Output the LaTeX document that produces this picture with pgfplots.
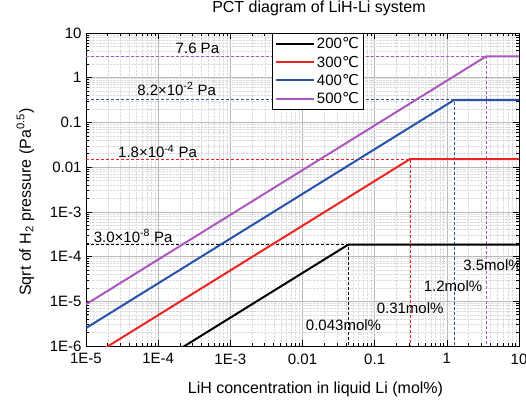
\documentclass[border=0pt]{standalone}
\usepackage{pgfplots}
\pgfplotsset{compat=1.18}
\usepackage{fontspec}
\setmainfont{Liberation Sans}
\newfontfamily\dejavu{DejaVu Sans}
\definecolor{cred}{RGB}{238,36,36}
\definecolor{cblue}{RGB}{38,82,170}
\definecolor{cpurp}{RGB}{170,88,190}
\newcommand{\degC}{{\dejavu ℃}}
\newcommand{\supx}[1]{\textsuperscript{#1}}
\begin{document}
\begin{tikzpicture}
\begin{axis}[
  scale only axis,
  width=433pt, height=313pt,
  xmode=log, ymode=log,
  xmin=1e-5, xmax=10, ymin=1e-6, ymax=10,
  font=\fontsize{15}{17}\selectfont,
  tick label style={font=\fontsize{15}{17}\selectfont},
  xticklabel style={yshift=-4pt},
  yticklabel style={xshift=-1pt},
  /pgf/number format/assume math mode=true,
  xtick={1e-5,1e-4,1e-3,1e-2,1e-1,1,10},
  xticklabels={1E-5,1E-4,1E-3,0.01,0.1,1,10},
  ytick={1e-6,1e-5,1e-4,1e-3,1e-2,1e-1,1,10},
  yticklabels={1E-6,1E-5,1E-4,1E-3,0.01,0.1,1,10},
  grid=both,
  major grid style={gray!55, line width=0.6pt},
  minor grid style={gray!28, line width=0.4pt, densely dotted},
  major tick length=6pt, minor tick length=3pt,
  tick style={black, line width=0.6pt},
  axis line style={black, line width=0.8pt},
  tick align=inside,
  title={PCT diagram of LiH-Li system},
  title style={at={(axis description cs:0.538,1)}, anchor=center, yshift=18.7pt, font=\fontsize{16}{18}\selectfont},
  xlabel={LiH concentration in liquid Li (mol\%)},
  xlabel style={at={(axis description cs:0.53,0)}, anchor=center, yshift=-43pt, font=\fontsize{16}{18}\selectfont},
  ylabel={Sqrt of H\textsubscript{2} pressure (Pa\textsuperscript{0.5})},
  ylabel style={at={(axis description cs:-0.14,0.46)}, anchor=center, font=\fontsize{16}{18}\selectfont},
  legend style={at={(axis description cs:0.43,1)}, anchor=north west, draw=black, line width=0.6pt, fill=white, row sep=1.5pt, inner sep=2.5pt, font=\fontsize{15}{17}\selectfont, cells={anchor=west}},
  legend cell align=left,
  legend image code/.code={\draw[#1, line width=2pt] (0cm,0cm) -- (38pt,0cm);},
  clip=true,
]
% dashed guide lines
\addplot[black, line width=1pt, dash pattern=on 3pt off 2pt, forget plot] coordinates {(1e-5,1.85e-4) (0.043,1.85e-4) (0.043,1e-6)};
\addplot[cred, line width=1pt, dash pattern=on 3pt off 2pt, forget plot] coordinates {(1e-5,0.0152) (0.31,0.0152) (0.31,1e-6)};
\addplot[cblue, line width=1pt, dash pattern=on 3pt off 2pt, forget plot] coordinates {(1e-5,0.32) (1.27,0.32) (1.27,1e-6)};
\addplot[cpurp, line width=1pt, dash pattern=on 3pt off 2pt, forget plot] coordinates {(1e-5,3.0) (3.5,3.0) (3.5,1e-6)};
% solid curves
\addplot[black, line width=2pt] coordinates {(1e-5,4.3e-8) (0.043,1.85e-4) (10,1.85e-4)};
\addplot[cred, line width=2pt] coordinates {(1e-5,4.9e-7) (0.31,0.0152) (10,0.0152)};
\addplot[cblue, line width=2pt] coordinates {(1e-5,2.52e-6) (1.27,0.32) (10,0.32)};
\addplot[cpurp, line width=2pt] coordinates {(1e-5,8.57e-6) (3.5,3.0) (10,3.0)};
\legend{200\degC,300\degC,400\degC,500\degC}
% annotations
\node at (axis cs:3.5e-4,4.6) {7.6 Pa};
\node at (axis cs:1.8e-4,0.56) {8.2×10\supx{-2} Pa};
\node at (axis cs:9.8e-5,0.022) {1.8×10\supx{-4} Pa};
\node at (axis cs:4.5e-5,2.9e-4) {3.0×10\supx{-8} Pa};
\node at (axis cs:0.037,2.9e-6) {0.043mol\%};
\node at (axis cs:0.31,6.9e-6) {0.31mol\%};
\node at (axis cs:1.22,2.2e-5) {1.2mol\%};
\node at (axis cs:4.3,6.3e-5) {3.5mol\%};
\end{axis}
\path (current axis.south west) ++(-86pt,-57pt) coordinate (bl);
\path (current axis.north east) ++(7pt,33pt) coordinate (tr);
\pgfresetboundingbox
\useasboundingbox (bl) rectangle (tr);
\end{tikzpicture}
\end{document}
